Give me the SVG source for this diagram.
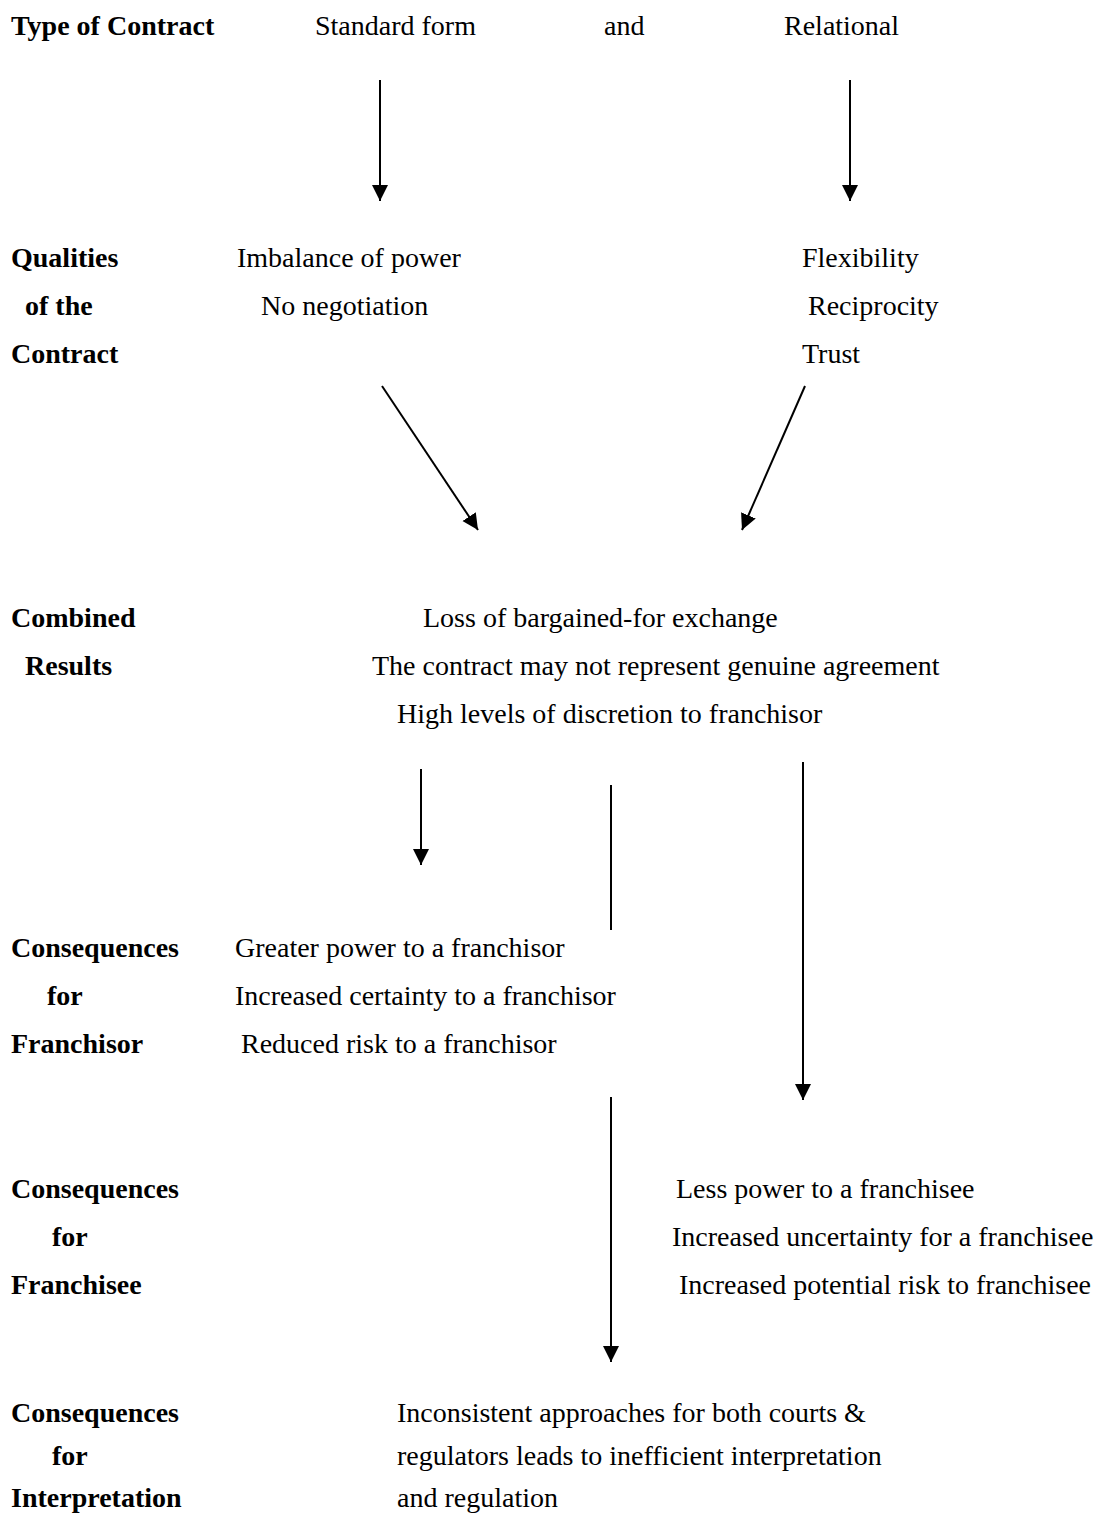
<svg xmlns="http://www.w3.org/2000/svg" width="1098" height="1514" viewBox="0 0 1098 1514">
<style>
text{font-family:"Liberation Serif","Times New Roman",serif;font-size:28px;fill:#000}
.b{font-weight:bold}
.c{stroke:#000;stroke-width:2;fill:none}
</style>
<defs>
<marker id="ah" markerUnits="userSpaceOnUse" markerWidth="18" markerHeight="18" refX="16" refY="8" orient="auto" viewBox="0 0 18 18">
<path d="M0,0 L16,8 L0,16 z" fill="#000"/>
</marker>
</defs>
<rect width="1098" height="1514" fill="#fff"/>
<g id="row-type">
<text class="b" x="11" y="35">Type of Contract</text>
<text x="315" y="35">Standard form</text>
<text x="604" y="35">and</text>
<text x="784" y="35">Relational</text>
</g>
<g id="row-qualities">
<text class="b" x="11" y="267">Qualities</text>
<text class="b" x="25" y="315">of the</text>
<text class="b" x="11" y="363">Contract</text>
<text x="237" y="267">Imbalance of power</text>
<text x="261" y="315">No negotiation</text>
<text x="802" y="267">Flexibility</text>
<text x="808" y="315">Reciprocity</text>
<text x="802" y="363">Trust</text>
</g>
<g id="row-combined">
<text class="b" x="11" y="627">Combined</text>
<text class="b" x="25" y="675">Results</text>
<text x="423" y="627">Loss of bargained-for exchange</text>
<text x="372" y="675">The contract may not represent genuine agreement</text>
<text x="397" y="723">High levels of discretion to franchisor</text>
</g>
<g id="row-franchisor">
<text class="b" x="11" y="957">Consequences</text>
<text class="b" x="47" y="1005">for</text>
<text class="b" x="11" y="1053">Franchisor</text>
<text x="235" y="957">Greater power to a franchisor</text>
<text x="235" y="1005">Increased certainty to a franchisor</text>
<text x="241" y="1053">Reduced risk to a franchisor</text>
</g>
<g id="row-franchisee">
<text class="b" x="11" y="1198">Consequences</text>
<text class="b" x="52" y="1246">for</text>
<text class="b" x="11" y="1294">Franchisee</text>
<text x="676" y="1198">Less power to a franchisee</text>
<text x="672" y="1246">Increased uncertainty for a franchisee</text>
<text x="679" y="1294">Increased potential risk to franchisee</text>
</g>
<g id="row-interpretation">
<text class="b" x="11" y="1422">Consequences</text>
<text class="b" x="52" y="1465">for</text>
<text class="b" x="11" y="1507">Interpretation</text>
<text x="397" y="1422">Inconsistent approaches for both courts &amp;</text>
<text x="397" y="1465">regulators leads to inefficient interpretation</text>
<text x="397" y="1507">and regulation</text>
</g>
<g id="connectors">
<line class="c" x1="380" y1="80" x2="380" y2="201" marker-end="url(#ah)"/>
<line class="c" x1="850" y1="80" x2="850" y2="201" marker-end="url(#ah)"/>
<line class="c" x1="382" y1="386" x2="478" y2="530" marker-end="url(#ah)"/>
<line class="c" x1="805" y1="386" x2="742" y2="530" marker-end="url(#ah)"/>
<line class="c" x1="421" y1="769" x2="421" y2="865" marker-end="url(#ah)"/>
<line class="c" x1="611" y1="785" x2="611" y2="930"/>
<line class="c" x1="803" y1="762" x2="803" y2="1100" marker-end="url(#ah)"/>
<line class="c" x1="611" y1="1097" x2="611" y2="1362" marker-end="url(#ah)"/>
</g>
</svg>
